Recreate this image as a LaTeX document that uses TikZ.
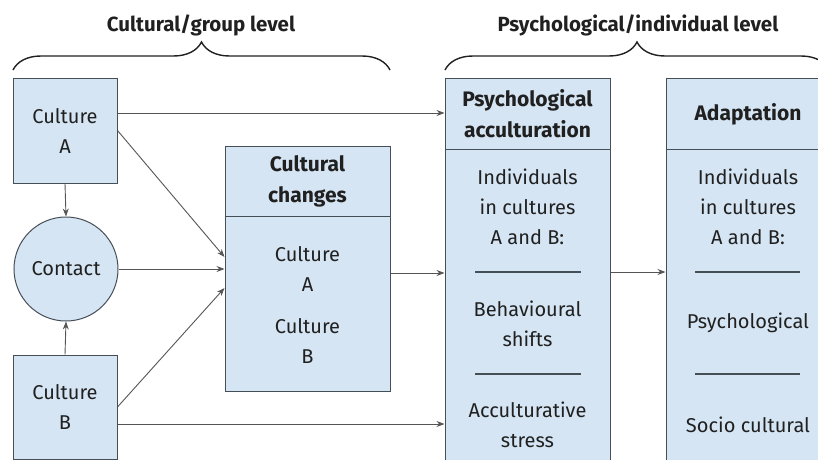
\documentclass[tikz,border=0pt]{standalone}
\usepackage{fontspec}
\setmainfont{Fira Sans}
\usetikzlibrary{arrows.meta, positioning, decorations.pathreplacing}
\definecolor{accblue}{RGB}{213,229,243}
\definecolor{accedge}{RGB}{70,78,86}
\definecolor{accline}{RGB}{85,85,85}
\definecolor{acctext}{RGB}{32,32,32}

\begin{document}
\begin{tikzpicture}[x=1pt, y=1pt,
    box/.style={draw=accedge, fill=accblue, line width=1pt, inner sep=0pt},
    txt/.style={align=center, text=acctext, font=\fontsize{20}{30}\selectfont},
    head/.style={align=center, text=acctext, font=\fontsize{21}{31}\selectfont\bfseries},
    arr/.style={draw=accline, line width=0.9pt, -{Stealth[length=8pt,width=6pt]}},
    rule/.style={draw=accedge, line width=1.8pt},
    lvlbrace/.style={draw=acctext, line width=1.4pt, decorate, decoration={brace, amplitude=28pt}}]
  \useasboundingbox (0,0) rectangle (818,459);
  \clip (0,0) rectangle (818,459);

  % level titles and braces
  \node[head, font=\fontsize{20.5}{24}\selectfont\bfseries] (grouplvl) at (201,434) {Cultural/group level};
  \node[head, font=\fontsize{20.5}{24}\selectfont\bfseries] (indivlvl) at (638,434) {Psychological/individual level};
  \draw[lvlbrace] (13,389) -- (390,389);
  \draw[lvlbrace] (445,389) -- (829,389);

  % cultural level
  \node[box, txt, minimum width=104pt, minimum height=105pt] (cultA) at (65,328.5) {Culture\\A};
  \node[box, txt, circle, minimum size=104pt] (contact) at (66,190) {Contact};
  \node[box, txt, minimum width=104pt, minimum height=104pt] (cultB) at (65,52) {Culture\\B};

  % cultural changes
  \node[box, minimum width=165pt, minimum height=245pt] (changes) at (307.5,190.5) {};
  \draw[accedge, line width=1pt] (changes.west |- 0,243) -- (changes.east |- 0,243);
  \node[head] (chhead) at (307.5,278) {Cultural\\changes};
  \node[txt] (chA) at (307.5,190.5) {Culture\\A};
  \node[txt] (chB) at (307.5,118.5) {Culture\\B};

  % psychological acculturation
  \node[box, minimum width=165pt, minimum height=391pt] (psych) at (527.5,185.5) {};
  \draw[accedge, line width=1pt] (psych.west |- 0,310) -- (psych.east |- 0,310);
  \node[head] (pshead) at (527.5,345) {Psychological\\acculturation};
  \node[txt] (psind) at (527.5,252) {Individuals\\in cultures\\A and B:};
  \node[txt] (psbeh) at (527.5,135) {Behavioural\\shifts};
  \node[txt] (psstr) at (527.5,34) {Acculturative\\stress};
  \foreach \yy in {187,85} \draw[rule] (475,\yy) -- (581,\yy);

  % adaptation
  \node[box, minimum width=164pt, minimum height=391pt] (adapt) at (748,185.5) {};
  \draw[accedge, line width=1pt] (adapt.west |- 0,310) -- (adapt.east |- 0,310);
  \node[head] (adhead) at (748,345) {Adaptation};
  \node[txt] (adind) at (748,252) {Individuals\\in cultures\\A and B:};
  \node[txt] (adpsy) at (748,136) {Psychological};
  \node[txt] (adsoc) at (748,34) {Socio cultural};
  \foreach \yy in {187,85} \draw[rule] (695,\yy) -- (800,\yy);

  % connectors
  \draw[arr] (cultA.south) -- (contact.north);
  \draw[arr] (cultB.north) -- (contact.south);
  \draw[arr] ([yshift=17.5pt]cultA.east) -- ([yshift=17.5pt]cultA.east -| psych.west);
  \draw[arr] (cultA.east) -- ([yshift=11.5pt]changes.west);
  \draw[arr] (contact.east) -- (contact.east -| changes.west);
  \draw[arr] (cultB.east) -- ([yshift=-19.5pt]changes.west);
  \draw[arr] ([yshift=-17pt]cultB.east) -- ([yshift=-17pt]cultB.east -| psych.west);
  \draw[arr] ([yshift=-4.5pt]changes.east) -- ([yshift=-4.5pt]changes.east -| psych.west);
  \draw[arr] ([yshift=1.5pt]psych.east) -- ([yshift=1.5pt]psych.east -| adapt.west);
\end{tikzpicture}
\end{document}
